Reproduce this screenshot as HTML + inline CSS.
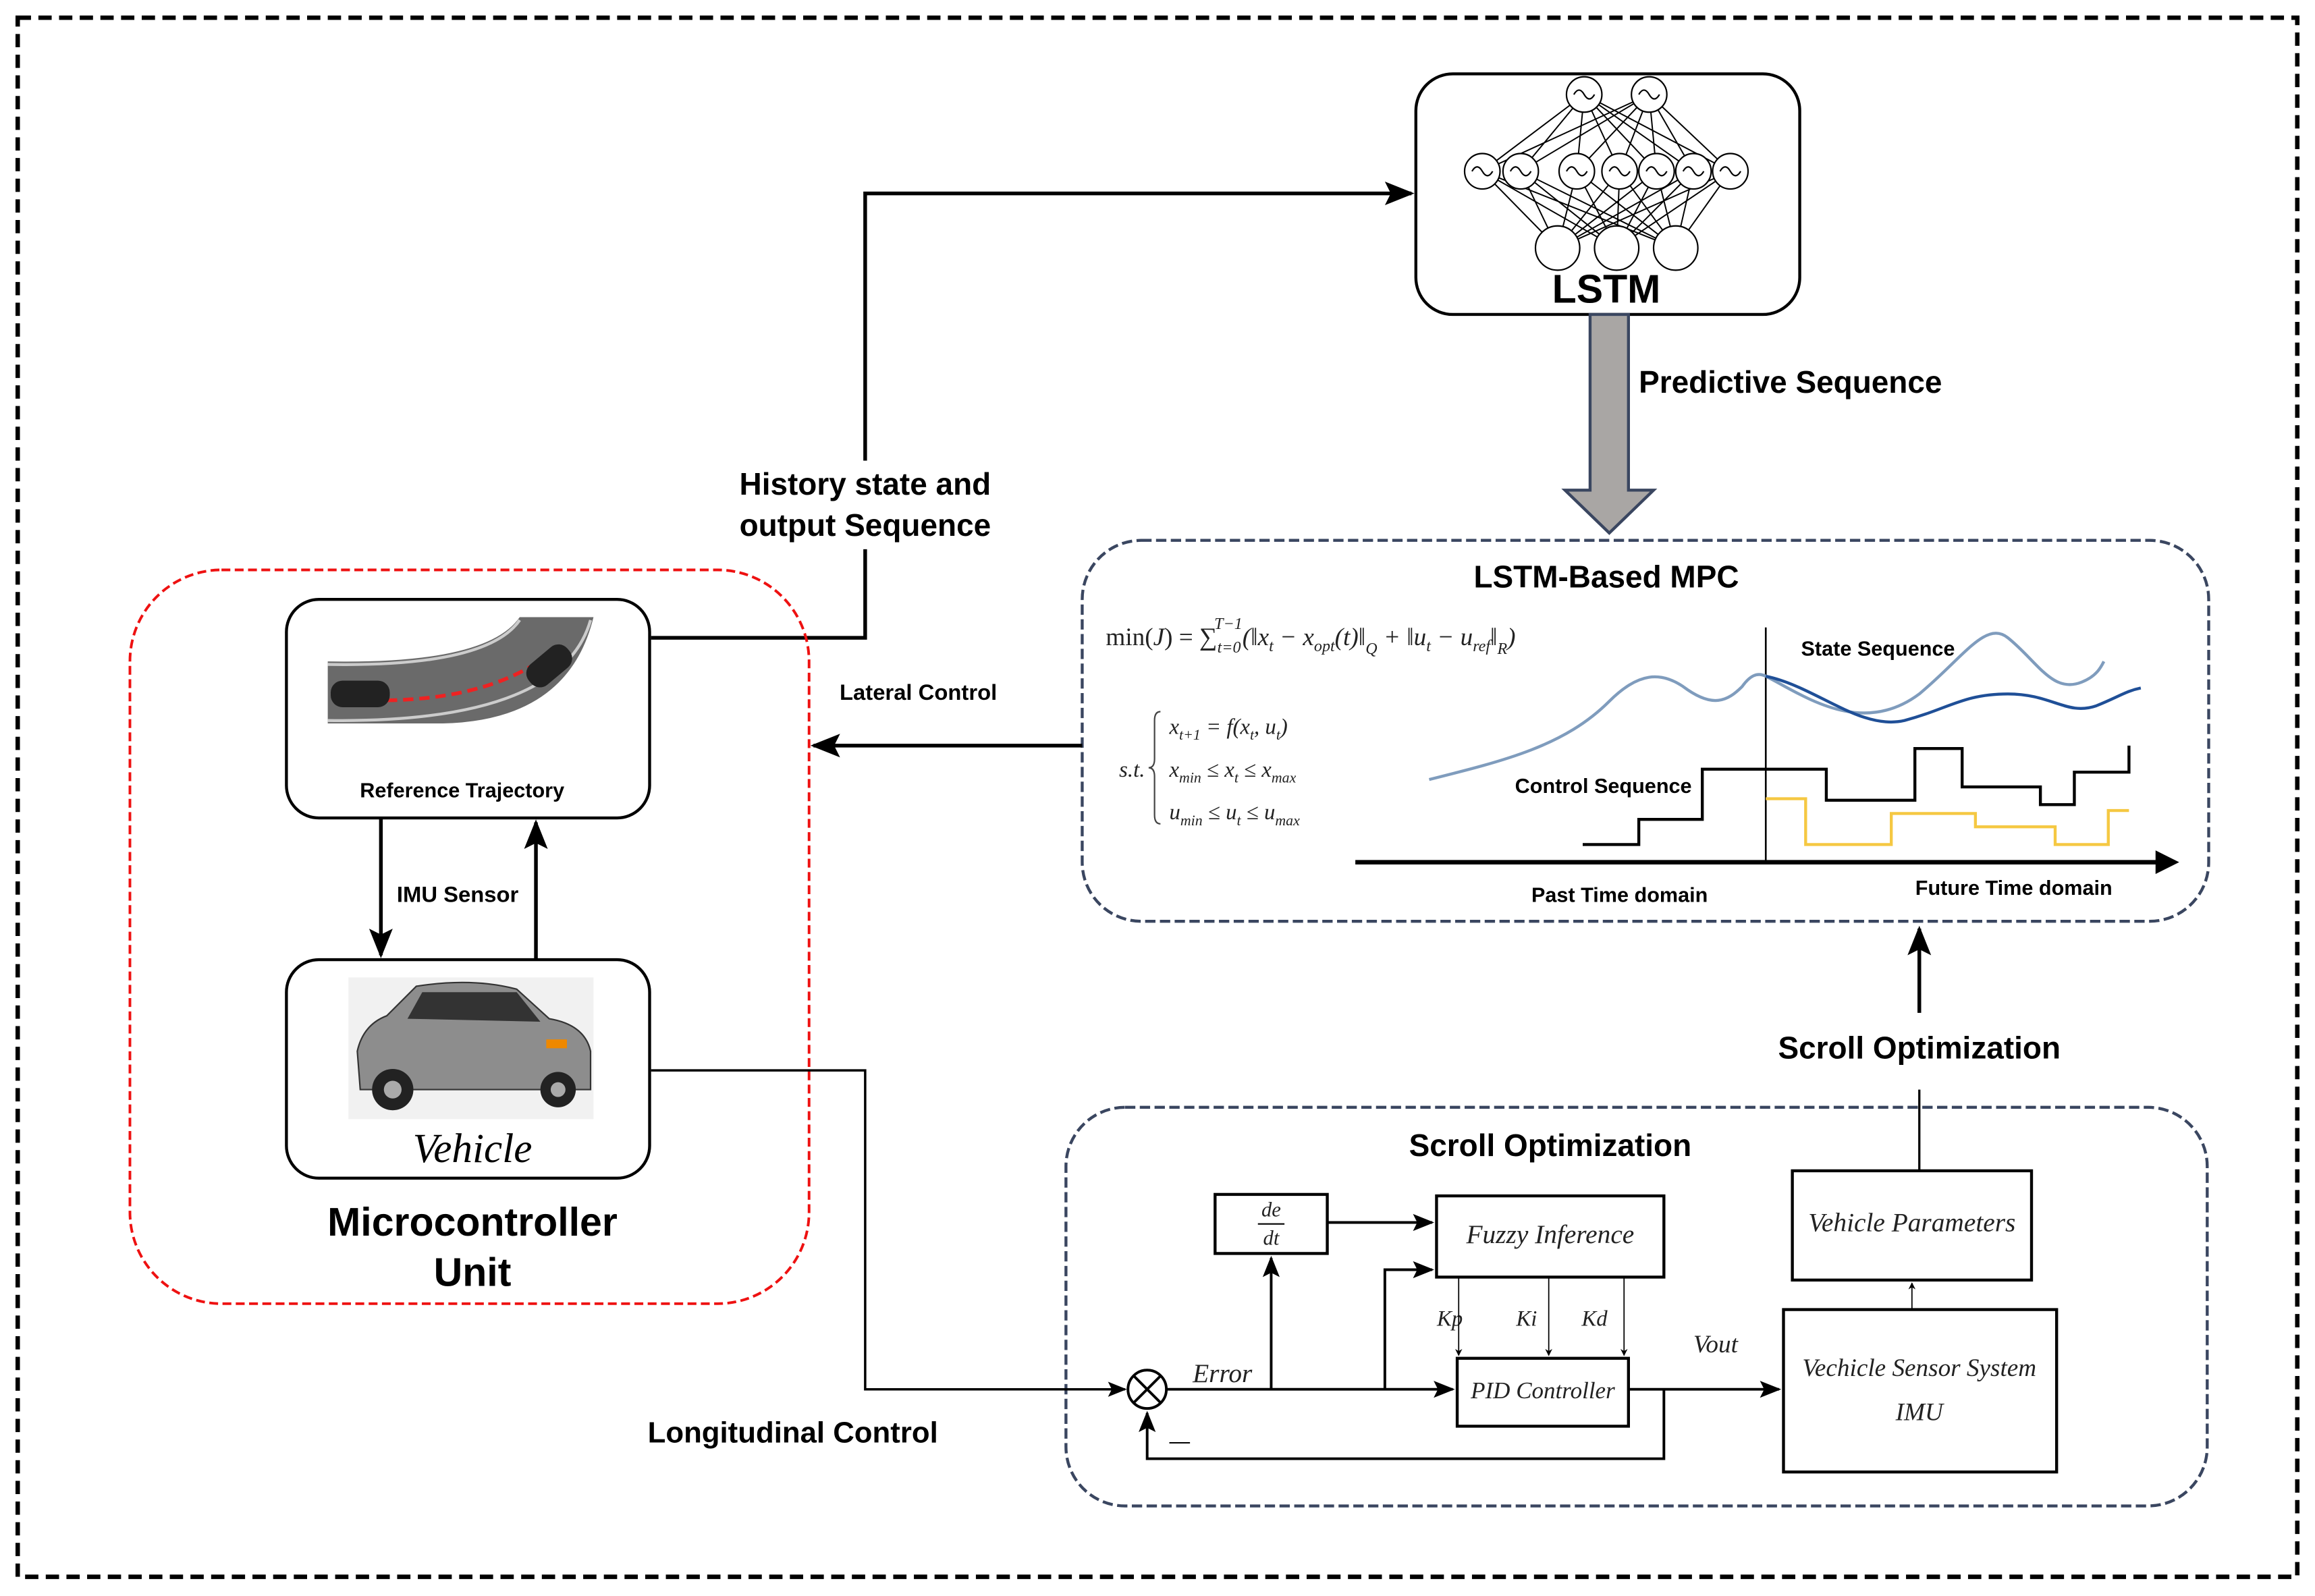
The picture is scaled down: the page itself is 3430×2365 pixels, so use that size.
<!DOCTYPE html>
<html><head><meta charset="utf-8"><style>
html,body{margin:0;padding:0;background:#fff;}
svg{display:block;}
text{font-family:"Liberation Sans","DejaVu Sans",sans-serif;}
.b{font-weight:bold;}
.s,.s text{font-family:"Liberation Serif","DejaVu Serif",serif;font-style:italic;}
</style></head><body>
<svg width="3430" height="2365" viewBox="0 0 1568 1081" preserveAspectRatio="none" xmlns="http://www.w3.org/2000/svg">
<defs>
<marker id="a" viewBox="0 0 10 10" refX="9" refY="5" markerWidth="6" markerHeight="6" orient="auto-start-reverse"><path d="M0,0 L10,5 L0,10 L3,5 z" fill="#000"/></marker>
<marker id="t" viewBox="0 0 10 10" refX="9" refY="5" markerWidth="8" markerHeight="8" orient="auto"><path d="M0,1 L10,5 L0,9 L2,5 z" fill="#000"/></marker>
</defs>
<rect x="0" y="0" width="1568" height="1081" fill="#fff"/>
<rect x="12" y="12" width="1544" height="1056" fill="none" stroke="#000" stroke-width="3" stroke-dasharray="9,5"/>

<!-- LSTM box -->
<rect x="959" y="50" width="260" height="163" rx="25" fill="#fff" stroke="#000" stroke-width="2"/>
<g stroke="#000" stroke-width="0.9">
<path d="M1073,64 L1004,116 M1073,64 L1030,116 M1073,64 L1068,116 M1073,64 L1097,116 M1073,64 L1122,116 M1073,64 L1147,116 M1073,64 L1172,116 M1117,64 L1004,116 M1117,64 L1030,116 M1117,64 L1068,116 M1117,64 L1097,116 M1117,64 L1122,116 M1117,64 L1147,116 M1117,64 L1172,116"/>
<path d="M1055,168 L1004,116 M1055,168 L1030,116 M1055,168 L1068,116 M1055,168 L1097,116 M1055,168 L1122,116 M1055,168 L1147,116 M1055,168 L1172,116 M1095,168 L1004,116 M1095,168 L1030,116 M1095,168 L1068,116 M1095,168 L1097,116 M1095,168 L1122,116 M1095,168 L1147,116 M1095,168 L1172,116 M1135,168 L1004,116 M1135,168 L1030,116 M1135,168 L1068,116 M1135,168 L1097,116 M1135,168 L1122,116 M1135,168 L1147,116 M1135,168 L1172,116"/>
</g>
<g fill="#fff" stroke="#000" stroke-width="1">
<circle cx="1073" cy="64" r="12"/><circle cx="1117" cy="64" r="12"/>
<circle cx="1004" cy="116" r="12"/><circle cx="1030" cy="116" r="12"/><circle cx="1068" cy="116" r="12"/><circle cx="1097" cy="116" r="12"/><circle cx="1122" cy="116" r="12"/><circle cx="1147" cy="116" r="12"/><circle cx="1172" cy="116" r="12"/>
<circle cx="1055" cy="168" r="15"/><circle cx="1095" cy="168" r="15"/><circle cx="1135" cy="168" r="15"/>
</g>
<g fill="none" stroke="#000" stroke-width="1">
<path d="M1066,64 q3.5,-6 7,0 q3.5,6 7,0"/><path d="M1110,64 q3.5,-6 7,0 q3.5,6 7,0"/>
<path d="M997,116 q3.5,-6 7,0 q3.5,6 7,0"/><path d="M1023,116 q3.5,-6 7,0 q3.5,6 7,0"/><path d="M1061,116 q3.5,-6 7,0 q3.5,6 7,0"/><path d="M1090,116 q3.5,-6 7,0 q3.5,6 7,0"/><path d="M1115,116 q3.5,-6 7,0 q3.5,6 7,0"/><path d="M1140,116 q3.5,-6 7,0 q3.5,6 7,0"/><path d="M1165,116 q3.5,-6 7,0 q3.5,6 7,0"/>
</g>
<text x="1088" y="205" font-size="27" class="b" text-anchor="middle">LSTM</text>

<!-- gray arrow -->
<path d="M1077,213 L1103,213 L1103,332 L1120,332 L1090,361 L1060,332 L1077,332 Z" fill="#a9a6a4" stroke="#3a4660" stroke-width="2"/>
<text x="1110" y="266" font-size="21" class="b">Predictive Sequence</text>

<!-- history arrow -->
<polyline points="441,432 586,432 586,131 956,131" fill="none" stroke="#000" stroke-width="2.5" marker-end="url(#t)"/>
<rect x="488" y="312" width="196" height="60" fill="#fff"/>
<text x="586" y="335" font-size="21" class="b" text-anchor="middle">History state and</text>
<text x="586" y="363" font-size="21" class="b" text-anchor="middle">output Sequence</text>

<!-- red MCU region -->
<rect x="88" y="386" width="460" height="497" rx="62" fill="none" stroke="#e11" stroke-width="1.8" stroke-dasharray="6,3"/>

<!-- Reference trajectory -->
<rect x="194" y="406" width="246" height="148" rx="22" fill="#fff" stroke="#000" stroke-width="2"/>
<path d="M222,448 Q330,450 352,418 L402,418 Q385,488 300,490 L222,490 Z" fill="#6a6a6a"/>
<path d="M222,450 Q330,452 352,420" fill="none" stroke="#ccc" stroke-width="2"/>
<path d="M222,488 Q380,490 400,420" fill="none" stroke="#ccc" stroke-width="2"/>
<path d="M240,474 Q330,478 376,440" fill="none" stroke="#e22" stroke-width="2.5" stroke-dasharray="7,4"/>
<rect x="224" y="461" width="40" height="18" rx="8" fill="#222"/>
<rect x="355" y="442" width="34" height="18" rx="8" fill="#222" transform="rotate(-40 372 451)"/>
<text x="313" y="540" font-size="14" class="b" text-anchor="middle">Reference Trajectory</text>

<!-- arrows between -->
<line x1="258" y1="554" x2="258" y2="647" stroke="#000" stroke-width="2.5" marker-end="url(#t)"/>
<line x1="363" y1="650" x2="363" y2="557" stroke="#000" stroke-width="2.5" marker-end="url(#t)"/>
<text x="310" y="611" font-size="15" class="b" text-anchor="middle">IMU Sensor</text>

<!-- Vehicle -->
<rect x="194" y="650" width="246" height="148" rx="22" fill="#fff" stroke="#000" stroke-width="2"/>
<rect x="236" y="662" width="166" height="96" fill="#f1f1f1"/>
<path d="M244,738 L242,712 Q246,694 262,688 L282,668 Q320,662 350,670 L372,690 Q396,694 400,712 L400,738 Z" fill="#8d8d8d" stroke="#333"/>
<path d="M286,672 L276,690 L366,692 L350,672 Z" fill="#333"/>
<circle cx="266" cy="738" r="14" fill="#222"/><circle cx="266" cy="738" r="6" fill="#aaa"/>
<circle cx="378" cy="738" r="12" fill="#222"/><circle cx="378" cy="738" r="5" fill="#aaa"/>
<rect x="370" y="704" width="14" height="6" fill="#e80"/>
<text x="320" y="787" font-size="28" class="s" text-anchor="middle">Vehicle</text>
<text x="320" y="837" font-size="27" class="b" text-anchor="middle">Microcontroller</text>
<text x="320" y="871" font-size="27" class="b" text-anchor="middle">Unit</text>

<!-- MPC box -->
<rect x="733" y="366" width="763" height="258" rx="40" fill="none" stroke="#3a4660" stroke-width="2" stroke-dasharray="7,3"/>
<text x="1088" y="398" font-size="21" class="b" text-anchor="middle">LSTM-Based MPC</text>
<line x1="733" y1="505" x2="551" y2="505" stroke="#000" stroke-width="2.5" marker-end="url(#t)"/>
<text x="622" y="474" font-size="15" class="b" text-anchor="middle">Lateral Control</text>
<g class="s">
<text x="749" y="437" font-size="17" fill="#222"><tspan font-style="normal">min(</tspan>J<tspan font-style="normal">) = ∑</tspan><tspan font-size="11" dy="5">t=0</tspan><tspan font-size="11" dy="-16" dx="-18">T−1</tspan><tspan dy="11">(‖x<tspan font-size="11" dy="4">t</tspan><tspan dy="-4"> − x</tspan><tspan font-size="11" dy="4">opt</tspan><tspan dy="-4">(t)‖</tspan><tspan font-size="11" dy="6">Q</tspan><tspan dy="-6"> + ‖u</tspan><tspan font-size="11" dy="4">t</tspan><tspan dy="-4"> − u</tspan><tspan font-size="11" dy="4">ref</tspan><tspan dy="-4">‖</tspan><tspan font-size="11" dy="6">R</tspan><tspan dy="-6">)</tspan></tspan></text>
<text x="758" y="526" font-size="15" fill="#222">s.t.</text>
<text x="792" y="497" font-size="15" fill="#222">x<tspan font-size="10" dy="4">t+1</tspan><tspan dy="-4"> = f(x</tspan><tspan font-size="10" dy="4">t</tspan><tspan dy="-4">, u</tspan><tspan font-size="10" dy="4">t</tspan><tspan dy="-4">)</tspan></text>
<text x="792" y="526" font-size="15" fill="#222">x<tspan font-size="10" dy="4">min</tspan><tspan dy="-4"> ≤ x</tspan><tspan font-size="10" dy="4">t</tspan><tspan dy="-4"> ≤ x</tspan><tspan font-size="10" dy="4">max</tspan></text>
<text x="792" y="555" font-size="15" fill="#222">u<tspan font-size="10" dy="4">min</tspan><tspan dy="-4"> ≤ u</tspan><tspan font-size="10" dy="4">t</tspan><tspan dy="-4"> ≤ u</tspan><tspan font-size="10" dy="4">max</tspan></text>
</g>
<path d="M786,482 q-4,0 -4,6 l0,26 q0,6 -4,6 q4,0 4,6 l0,26 q0,6 4,6" fill="none" stroke="#444" stroke-width="1"/>
<!-- chart -->
<line x1="1196" y1="425" x2="1196" y2="585" stroke="#000" stroke-width="1.2"/>
<line x1="918" y1="584" x2="1462" y2="584" stroke="#000" stroke-width="3"/>
<path d="M1460,576 L1476,584 L1460,592 Z" fill="#000"/>
<path d="M968,528 C1020,515 1060,505 1090,475 C1110,455 1125,455 1140,465 C1160,480 1170,475 1180,465 C1185,458 1190,455 1196,458 C1220,470 1260,500 1300,470 C1330,445 1345,420 1360,432 C1380,448 1390,470 1410,462 C1420,458 1423,452 1425,448" fill="none" stroke="#7f9cbd" stroke-width="2"/>
<path d="M1196,458 C1230,465 1260,495 1290,488 C1320,480 1330,470 1360,470 C1390,470 1400,485 1420,478 C1435,472 1440,468 1450,466" fill="none" stroke="#1f4f97" stroke-width="2"/>
<polyline points="1072,572 1110,572 1110,555 1153,555 1153,521 1237,521 1237,542 1297,542 1297,507 1329,507 1329,533 1382,533 1382,545 1405,545 1405,523 1442,523 1442,505" fill="none" stroke="#000" stroke-width="2"/>
<polyline points="1196,541 1223,541 1223,572 1281,572 1281,551 1338,551 1338,560 1392,560 1392,572 1428,572 1428,549 1442,549" fill="none" stroke="#f5c842" stroke-width="2"/>
<text x="1272" y="444" font-size="14" class="b" text-anchor="middle">State Sequence</text>
<text x="1086" y="537" font-size="14" class="b" text-anchor="middle">Control Sequence</text>
<text x="1097" y="611" font-size="14" class="b" text-anchor="middle">Past Time domain</text>
<text x="1364" y="606" font-size="14" class="b" text-anchor="middle">Future Time domain</text>

<!-- Scroll optimization arrow -->
<line x1="1300" y1="686" x2="1300" y2="629" stroke="#000" stroke-width="2.5" marker-end="url(#t)"/>
<text x="1300" y="717" font-size="21" class="b" text-anchor="middle">Scroll Optimization</text>
<line x1="1300" y1="738" x2="1300" y2="793" stroke="#000" stroke-width="1.5"/>

<!-- Scroll box -->
<rect x="722" y="750" width="773" height="270" rx="40" fill="none" stroke="#3a4660" stroke-width="2" stroke-dasharray="7,3"/>
<text x="1050" y="783" font-size="21" class="b" text-anchor="middle">Scroll Optimization</text>

<g fill="#fff" stroke="#000" stroke-width="2">
<rect x="823" y="809" width="76" height="40"/>
<rect x="973" y="810" width="154" height="55"/>
<rect x="987" y="920" width="116" height="46"/>
<rect x="1214" y="793" width="162" height="74"/>
<rect x="1208" y="887" width="185" height="110"/>
</g>
<g class="s" fill="#222" text-anchor="middle">
<text x="861" y="824" font-size="14">de</text>
<text x="861" y="843" font-size="14">dt</text>
<text x="1050" y="842" font-size="18">Fuzzy Inference</text>
<text x="1045" y="947" font-size="16">PID Controller</text>
<text x="1295" y="834" font-size="18">Vehicle Parameters</text>
<text x="1300" y="932" font-size="17">Vechicle Sensor System</text>
<text x="1300" y="962" font-size="17">IMU</text>
<text x="982" y="898" font-size="15">Kp</text>
<text x="1034" y="898" font-size="15">Ki</text>
<text x="1080" y="898" font-size="15">Kd</text>
<text x="828" y="936" font-size="18">Error</text>
<text x="1162" y="916" font-size="17">Vout</text>
</g>
<line x1="852" y1="829" x2="870" y2="829" stroke="#000" stroke-width="1"/>
<text x="792" y="981" font-size="14">—</text>

<!-- longitudinal -->
<polyline points="441,725 586,725 586,941 762,941" fill="none" stroke="#000" stroke-width="1.6" marker-end="url(#t)"/>
<text x="537" y="977" font-size="20" class="b" text-anchor="middle">Longitudinal Control</text>
<circle cx="777" cy="941" r="13" fill="#fff" stroke="#000" stroke-width="1.8"/>
<path d="M768,932 L786,950 M786,932 L768,950" stroke="#000" stroke-width="1.8"/>
<line x1="790" y1="941" x2="984" y2="941" stroke="#000" stroke-width="1.8" marker-end="url(#t)"/>
<line x1="861" y1="941" x2="861" y2="852" stroke="#000" stroke-width="1.8" marker-end="url(#t)"/>
<polyline points="938,941 938,860 970,860" fill="none" stroke="#000" stroke-width="1.8" marker-end="url(#t)"/>
<line x1="899" y1="828" x2="970" y2="828" stroke="#000" stroke-width="1.8" marker-end="url(#t)"/>
<g stroke="#000" stroke-width="0.8">
<line x1="988" y1="865" x2="988" y2="918" marker-end="url(#a)"/>
<line x1="1049" y1="865" x2="1049" y2="918" marker-end="url(#a)"/>
<line x1="1100" y1="865" x2="1100" y2="918" marker-end="url(#a)"/>
<line x1="1295" y1="887" x2="1295" y2="869" marker-end="url(#a)"/>
</g>
<line x1="1103" y1="941" x2="1205" y2="941" stroke="#000" stroke-width="1.8" marker-end="url(#t)"/>
<polyline points="1127,941 1127,988 777,988 777,957" fill="none" stroke="#000" stroke-width="1.8" marker-end="url(#t)"/>
</svg>
</body></html>
